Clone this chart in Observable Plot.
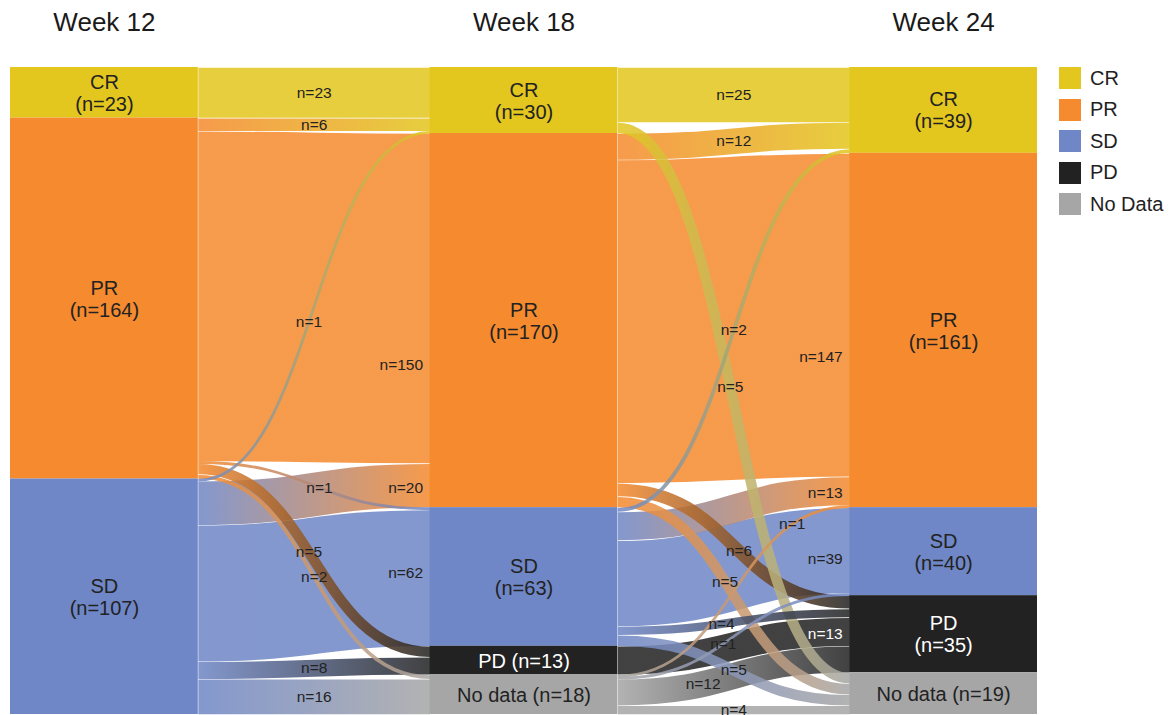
<!DOCTYPE html>
<html><head><meta charset="utf-8">
<script src="https://cdn.jsdelivr.net/npm/d3@7"></script>
<script src="https://cdn.jsdelivr.net/npm/@observablehq/plot@0.6"></script>
<style>
body{margin:0;background:#fff;font-family:"Liberation Sans",Arial,sans-serif;}
#wrap{position:relative;width:1176px;height:715px;overflow:hidden;}
#chart{position:absolute;left:0;top:0;}
#legend{position:absolute;left:1059px;top:67px;z-index:2;}
.item{display:flex;align-items:center;height:22px;margin-bottom:9.5px;font-size:20px;color:#222;}
.sw{width:22px;height:22px;margin-right:9px;}
</style></head>
<body><div id="wrap"><div id="chart"></div><div id="legend"></div></div>
<script>
// ---- data ----
const weeks = ["Week 12", "Week 18", "Week 24"];
const categories = ["CR", "PR", "SD", "PD", "No data"];
const legendLabels = ["CR", "PR", "SD", "PD", "No Data"];
const colors = ["#E3C61E", "#F58A2E", "#6F87C6", "#222222", "#A6A6A6"];
const week12Counts = [23, 164, 107, 0, 0];
const week18Counts = [30, 170, 63, 13, 18];
const week24Counts = [39, 161, 40, 35, 19];
const flows12to18 = [
  ["CR", "CR", 23], ["PR", "CR", 6], ["PR", "PR", 150], ["PR", "SD", 1], ["PR", "PD", 5], ["PR", "No data", 2],
  ["SD", "CR", 1], ["SD", "PR", 20], ["SD", "SD", 62], ["SD", "PD", 8], ["SD", "No data", 16]
];
const flows18to24 = [
  ["CR", "CR", 25], ["CR", "No data", 5],
  ["PR", "CR", 12], ["PR", "PR", 147], ["PR", "PD", 6], ["PR", "No data", 5],
  ["SD", "CR", 2], ["SD", "PR", 13], ["SD", "SD", 39], ["SD", "PD", 4], ["SD", "No data", 5],
  ["PD", "PD", 13],
  ["No data", "PR", 1], ["No data", "SD", 1], ["No data", "PD", 12], ["No data", "No data", 4]
];

// ---- label anchors along each link (layout only): [curve parameter, anchor, band fraction for end labels] ----
const labelAt12 = [[0.5,"mid"],[0.5,"mid"],[1,"end",0.70],[0.53,"mid"],[0.47,"mid"],[0.5,"mid"],
  [0.47,"mid"],[1,"end",0.55],[1,"end",0.46],[0.5,"mid"],[0.5,"mid"]];
const labelAt18 = [[0.5,"mid"],[0.48,"mid"],[0.5,"mid"],[1,"end",0.63],[0.53,"mid"],[0.45,"mid"],
  [0.5,"mid"],[1,"end",0.55],[1,"end",0.6],[0.43,"mid"],[0.5,"mid"],[1,"end",0.56],[0.8,"mid"],[0.44,"mid"],[0.33,"mid"],[0.5,"mid"]];

// ---- layout ----
const W = 1176, H = 715;
const weekCounts = [week12Counts, week18Counts, week24Counts];
const total = d3.sum(week12Counts);
const nodeFrac = 188 / 420;
const xDomain = [0, 2 + nodeFrac], xRange = [10, 1037];
const yDomain = [0, total], yRange = [67, 714];
const xs = d3.scaleLinear(xDomain, xRange);
const k = (yRange[1] - yRange[0]) / total;

const nodes = [];
weekCounts.forEach((counts, w) => {
  let acc = 0;
  counts.forEach((c, i) => {
    if (c > 0) nodes.push({week: w, cat: categories[i], i, n: c, y1: acc, y2: acc + c});
    acc += c;
  });
});

const panels = [flows12to18, flows18to24];
const labelAt = [labelAt12, labelAt18];
const links = [];
panels.forEach((flows, p) => {
  const ls = flows.map(([from, to, n], j) => ({p, from, to, n, j,
    fi: categories.indexOf(from), ti: categories.indexOf(to)}));
  const srcOff = {}, tgtOff = {};
  nodes.filter(d => d.week === p).forEach(d => srcOff[d.cat] = d.y1);
  nodes.filter(d => d.week === p + 1).forEach(d => tgtOff[d.cat] = d.y1);
  ls.slice().sort((a, b) => a.fi - b.fi || a.ti - b.ti).forEach(d => {
    d.y1 = srcOff[d.from] + d.n / 2; srcOff[d.from] += d.n;
  });
  ls.slice().sort((a, b) => a.ti - b.ti || a.fi - b.fi).forEach(d => {
    d.y2 = tgtOff[d.to] + d.n / 2; tgtOff[d.to] += d.n;
  });
  ls.forEach(d => {
    d.x1 = p + nodeFrac; d.x2 = p + 1;
    d.grad = `g${p}_${d.fi}_${d.ti}`;
    const [s, anchor, band] = labelAt[p][d.j];
    d.anchor = anchor;
    const fx = 1.5 * s - 1.5 * s * s + s * s * s;
    const fy = 3 * s * s - 2 * s * s * s;
    d.lx = d.x1 + (d.x2 - d.x1) * fx;
    d.ly = anchor === "end" ? (d.y2 - d.n / 2) + band * d.n : d.y1 + (d.y2 - d.y1) * fy;
    d.lfill = (d.from === "PD" && d.to === "PD") ? "#ffffff" : "#222222";
  });
  links.push(...ls);
});
const drawOrder = links.slice().sort((a, b) => b.n - a.n || a.p - b.p || a.j - b.j);

function gradients() {
  const defs = d3.create("svg:defs");
  links.forEach(d => {
    const g = defs.append("linearGradient").attr("id", d.grad)
      .attr("gradientUnits", "userSpaceOnUse")
      .attr("x1", xs(d.x1)).attr("x2", xs(d.x2)).attr("y1", 0).attr("y2", 0);
    g.append("stop").attr("offset", "0%").attr("stop-color", colors[d.fi]);
    g.append("stop").attr("offset", "100%").attr("stop-color", colors[d.ti]);
  });
  return defs.node();
}

const chart = Plot.plot({
  width: W, height: H,
  margin: 0,
  x: {domain: xDomain, range: xRange, axis: null},
  y: {domain: yDomain, range: yRange, axis: null},
  color: {type: "identity"},
  style: {fontFamily: "'Liberation Sans', Arial, sans-serif", background: "transparent", overflow: "visible"},
  marks: [
    gradients,
    Plot.link(drawOrder, {
      x1: "x1", y1: "y1", x2: "x2", y2: "y2", curve: "bump-x",
      stroke: d => `url(#${d.grad})`,
      strokeWidth: d => Math.max(d.n * k - 0.6, 2.8),
      strokeOpacity: 0.86
    }),
    Plot.rect(nodes, {
      x1: d => d.week, x2: d => d.week + nodeFrac, y1: "y1", y2: "y2",
      fill: d => colors[d.i]
    }),
    Plot.text(nodes, {
      x: d => d.week + nodeFrac / 2, y: d => (d.y1 + d.y2) / 2,
      text: d => d.n >= 20 ? `${d.cat}\n(n=${d.n})` : `${d.cat} (n=${d.n})`,
      fill: d => d.cat === "PD" ? "#ffffff" : "#222222",
      fontSize: 20, lineHeight: 1.1
    }),
    Plot.text(links.filter(d => d.anchor === "mid"), {
      x: "lx", y: "ly", text: d => `n=${d.n}`, fill: "lfill", fontSize: 15.5
    }),
    Plot.text(links.filter(d => d.anchor === "end"), {
      x: "lx", y: "ly", text: d => `n=${d.n}`, fill: "lfill", fontSize: 15.5,
      textAnchor: "end", dx: -7
    }),
    Plot.text(weeks, {
      x: (d, i) => i + nodeFrac / 2, y: () => 0, dy: -45, text: d => d,
      fontSize: 26, fill: "#1a1a1a"
    })
  ]
});
document.getElementById("chart").appendChild(chart);

const legend = d3.select("#legend");
legendLabels.forEach((lab, i) => {
  const it = legend.append("div").attr("class", "item");
  it.append("div").attr("class", "sw").style("background", colors[i]);
  it.append("span").text(lab);
});
</script>
</body></html>
